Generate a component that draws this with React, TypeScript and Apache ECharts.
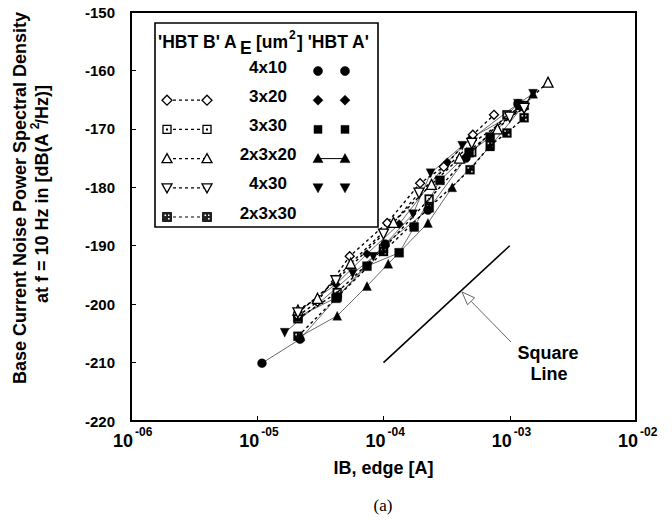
import React, { useEffect, useRef } from "react";
import * as echarts from "echarts";

const FONT = 'Arial, "Liberation Sans", Helvetica, sans-serif';
const SERIF = '"Times New Roman", "Liberation Serif", serif';

// ---- data (IB [A], PSD [dB(A^2/Hz)]) ----
const hbtA_4x10 = [[1.09e-5, -210.1], [2.18e-5, -206], [4.3e-5, -198.8], [1.03e-4, -189.7], [2.25e-4, -183.9], [4.5e-4, -175], [1.16e-3, -165.7]];
const hbtA_3x20 = [[2.1e-5, -201.3], [4.2e-5, -196.6], [7.4e-5, -191.4], [1.33e-4, -186.3], [3.2e-4, -175.7], [5e-4, -171.5], [1.3e-3, -166.5]];
const hbtA_3x30 = [[2.1e-5, -202.2], [4.3e-5, -198.8], [7.4e-5, -193.5], [1.33e-4, -191.2], [1.75e-4, -186.8], [2.8e-4, -178.8], [4.76e-4, -174.1], [7e-4, -171.4], [1.2e-3, -166]];
const hbtA_2x3x20 = [[2.2e-5, -205.5], [4.3e-5, -202], [7.4e-5, -196.9], [1.09e-4, -193.1], [2.25e-4, -186.1], [3.5e-4, -180], [7e-4, -173], [1.53e-3, -164]];
const hbtA_4x30 = [[1.65e-5, -204.9], [5.7e-5, -194.8], [8.3e-5, -191.9], [1.71e-4, -184.6], [2.36e-4, -177.6], [4.2e-4, -172.9], [1.16e-3, -165.7], [1.53e-3, -164]];

const hbtB_3x20 = [[2.1e-5, -202], [3e-5, -199.6], [5.4e-5, -191.8], [1.07e-4, -186.1], [1.95e-4, -179.3], [3e-4, -176.5], [5.1e-4, -171], [7.5e-4, -167.6]];
const hbtB_3x30 = [[2.1e-5, -202.5], [4.3e-5, -198], [1e-4, -190.5], [2.3e-4, -182], [5e-4, -174], [9.5e-4, -167.6], [1.3e-3, -166]];
const hbtB_2x3x20 = [[2.1e-5, -201], [3e-5, -199], [5.5e-5, -193], [1.2e-4, -186], [2.4e-4, -179.5], [4e-4, -175], [8e-4, -170], [2.01e-3, -162]];
const hbtB_4x30 = [[2.1e-5, -201.5], [4.2e-5, -196], [1e-4, -188], [1.91e-4, -181], [5e-4, -172.5], [1e-3, -168], [1.3e-3, -166.5]];
const hbtB_2x3x30 = [[2.1e-5, -205.5], [4.2e-5, -199], [1e-4, -191], [2.3e-4, -183.5], [4.85e-4, -177], [7e-4, -172.8], [9.5e-4, -170.7], [1.3e-3, -168.1]];

const squareLine = [[1e-4, -210], [1e-3, -190]];

const legendLabels = ["4x10", "3x20", "3x30", "2x3x20", "4x30", "2x3x30"];

const X_MIN = 1e-6;
const X_MAX = 1e-2;
const xTicks = [1e-6, 1e-5, 1e-4, 1e-3, 1e-2];
const xTickExp = ["-06", "-05", "-04", "-03", "-02"];
const Y_MIN = -220;
const Y_MAX = -150;
const Y_STEP = 10;

// ---- symbols ----
const TRI_DOWN = "path://M0,0 L10,0 L5,9 Z";
const SQ_DOT = "path://M0,0 L10,0 L10,10 L0,10 Z M1.6,1.6 L1.6,8.4 L8.4,8.4 L8.4,1.6 Z M4,4 L6,4 L6,6 L4,6 Z";
const SQ_PAT = "path://M0,0 L10,0 L10,10 L0,10 Z M2,2 L2,4 L4,4 L4,2 Z M6,6 L6,8 L8,8 L8,6 Z M6,2 L6,3.5 L7.5,3.5 L7.5,2 Z";

type Def = { name: string; data: number[][]; symbol: string; size: number; open: boolean; dashed: boolean };

const defs: Def[] = [
  { name: "HBT A 4x10", data: hbtA_4x10, symbol: "circle", size: 9, open: false, dashed: false },
  { name: "HBT A 3x20", data: hbtA_3x20, symbol: "diamond", size: 9, open: false, dashed: false },
  { name: "HBT A 3x30", data: hbtA_3x30, symbol: "rect", size: 9, open: false, dashed: false },
  { name: "HBT A 2x3x20", data: hbtA_2x3x20, symbol: "triangle", size: 9, open: false, dashed: false },
  { name: "HBT A 4x30", data: hbtA_4x30, symbol: TRI_DOWN, size: 9, open: false, dashed: false },
  { name: "HBT B 3x20", data: hbtB_3x20, symbol: "diamond", size: 9, open: true, dashed: true },
  { name: "HBT B 3x30", data: hbtB_3x30, symbol: SQ_DOT, size: 9, open: false, dashed: true },
  { name: "HBT B 2x3x20", data: hbtB_2x3x20, symbol: "triangle", size: 10, open: true, dashed: true },
  { name: "HBT B 4x30", data: hbtB_4x30, symbol: TRI_DOWN, size: 10, open: true, dashed: true },
  { name: "HBT B 2x3x30", data: hbtB_2x3x30, symbol: SQ_PAT, size: 9, open: false, dashed: true },
];

function shape(kind: string, cx: number, cy: number, open: boolean): any[] {
  const fill = open ? "#fff" : "#000";
  const st = { fill, stroke: "#000", lineWidth: open ? 1.3 : 0.5 };
  if (kind === "circle") return [{ type: "circle", z: 20, shape: { cx, cy, r: 4.5 }, style: st }];
  if (kind === "diamond") return [{ type: "polygon", z: 20, shape: { points: [[cx, cy - 5], [cx + 5, cy], [cx, cy + 5], [cx - 5, cy]] }, style: st }];
  if (kind === "square") return [{ type: "rect", z: 20, shape: { x: cx - 4, y: cy - 4, width: 8, height: 8 }, style: st }];
  if (kind === "triUp") return [{ type: "polygon", z: 20, shape: { points: [[cx, cy - 5], [cx + 5, cy + 4], [cx - 5, cy + 4]] }, style: st }];
  if (kind === "triDown") return [{ type: "polygon", z: 20, shape: { points: [[cx - 5, cy - 4], [cx + 5, cy - 4], [cx, cy + 5]] }, style: st }];
  if (kind === "sqDot")
    return [
      { type: "rect", z: 20, shape: { x: cx - 4, y: cy - 4, width: 8, height: 8 }, style: { fill: "#fff", stroke: "#000", lineWidth: 1.3 } },
      { type: "rect", z: 21, shape: { x: cx - 1, y: cy - 1, width: 2, height: 2 }, style: { fill: "#000" } },
    ];
  if (kind === "sqPat")
    return [
      { type: "rect", z: 20, shape: { x: cx - 4.5, y: cy - 4.5, width: 9, height: 9 }, style: { fill: "#222", stroke: "#000", lineWidth: 0.8 } },
      { type: "rect", z: 21, shape: { x: cx - 2.5, y: cy - 2.5, width: 1.6, height: 1.6 }, style: { fill: "#fff" } },
      { type: "rect", z: 21, shape: { x: cx + 1, y: cy + 1, width: 1.6, height: 1.6 }, style: { fill: "#fff" } },
      { type: "rect", z: 21, shape: { x: cx + 1, y: cy - 2.5, width: 1.4, height: 1.4 }, style: { fill: "#fff" } },
    ];
  return [];
}

function txt(x: number, y: number, text: string, font: string, align = "center", extra: any = {}) {
  return { type: "text", x, y, ...extra, style: { text, font, fill: "#000", align, verticalAlign: "middle" } };
}

function buildGraphic(xTickPx: number[], axisY: number): any[] {
  const g: any[] = [];
  const B17 = `bold 17.5px ${FONT}`;
  const B12 = `bold 12px ${FONT}`;
  // legend box
  g.push({ type: "rect", z: 15, shape: { x: 155, y: 23, width: 223, height: 204 }, style: { fill: "#fff", stroke: "#000", lineWidth: 1.6 } });
  // header pieces
  g.push(txt(158, 42, "'HBT B' A", B17, "left", { z: 20 }));
  g.push(txt(240, 48, "E", B17, "left", { z: 20 }));
  g.push(txt(256, 42, "[um", B17, "left", { z: 20 }));
  g.push(txt(289, 35, "2", B12, "left", { z: 20 }));
  g.push(txt(297, 42, "] 'HBT A'", B17, "left", { z: 20 }));

  const leftKinds = [null, "diamond", "sqDot", "triUp", "triDown", "sqPat"];
  const rightKinds = ["circle", "diamond", "square", "triUp", "triDown", null];
  legendLabels.forEach((lab, i) => {
    const ty = 67 + i * 29.2;
    const sy = ty + 4;
    g.push(txt(268, ty, lab, `bold 17px ${FONT}`, "center", { z: 20 }));
    const lk = leftKinds[i];
    if (lk) {
      g.push({ type: "line", z: 19, shape: { x1: 167, y1: sy, x2: 207, y2: sy }, style: { stroke: "#000", lineWidth: 1.2, lineDash: [3, 3] } });
      g.push(...shape(lk, 167, sy, lk !== "sqDot" && lk !== "sqPat"));
      g.push(...shape(lk, 207, sy, lk !== "sqDot" && lk !== "sqPat"));
    }
    const rk = rightKinds[i];
    if (rk) {
      if (rk === "triUp") g.push({ type: "line", z: 19, shape: { x1: 318, y1: sy, x2: 345, y2: sy }, style: { stroke: "#000", lineWidth: 1 } });
      g.push(...shape(rk, 318, sy, false));
      g.push(...shape(rk, 345, sy, false));
    }
  });

  // x tick labels 10^-0n
  xTickPx.forEach((px, i) => {
    g.push(txt(px + 2, axisY + 20, "10", `bold 18px ${FONT}`, "right"));
    g.push(txt(px + 4, axisY + 11, xTickExp[i], B12, "left"));
  });

  // y axis title (two rotated lines)
  g.push(txt(20, 198, "Base Current Noise Power Spectral Density", `bold 18px ${FONT}`, "center", { rotation: Math.PI / 2 }));
  g.push(txt(42, 194, "at f = 10 Hz in [dB(A  /Hz)]", `bold 18px ${FONT}`, "center", { rotation: Math.PI / 2 }));
  g.push(txt(35, 126, "2", B12, "center", { rotation: Math.PI / 2 }));

  // Square line annotation
  const tip = [462, 292];
  const tail = [511, 342];
  const dx = tip[0] - tail[0], dy = tip[1] - tail[1];
  const L = Math.hypot(dx, dy);
  const ux = dx / L, uy = dy / L;
  const bx = tip[0] - 13 * ux, by = tip[1] - 13 * uy;
  const px = -uy, py = ux;
  g.push({ type: "line", shape: { x1: tail[0], y1: tail[1], x2: bx, y2: by }, style: { stroke: "#666", lineWidth: 1 } });
  g.push({
    type: "polygon",
    shape: { points: [tip, [bx + 5 * px, by + 5 * py], [bx - 5 * px, by - 5 * py]] },
    style: { fill: "#fff", stroke: "#666", lineWidth: 1 },
  });
  g.push(txt(548, 353, "Square", `bold 18px ${FONT}`));
  g.push(txt(549, 374, "Line", `bold 18px ${FONT}`));

  g.push(txt(383, 505, "(a)", `17px ${SERIF}`));
  return g;
}

export default function App() {
  const ref = useRef<HTMLDivElement>(null);
  useEffect(() => {
    document.body.style.margin = "0";
    if (!ref.current) return;
    const chart = echarts.init(ref.current, undefined, { renderer: "svg" });
    const series: any[] = defs.map((d) => ({
      name: d.name,
      type: "line",
      data: d.data,
      symbol: d.symbol,
      symbolSize: d.size,
      showSymbol: true,
      z: d.dashed ? 4 : 3,
      lineStyle: d.dashed
        ? { color: "#000", width: 1.4, type: [3, 3] }
        : { color: "#444", width: 0.8, type: "solid" },
      itemStyle: d.open
        ? { color: "#fff", borderColor: "#000", borderWidth: 1.3 }
        : { color: "#000", borderColor: "#000", borderWidth: 0.3 },
      emphasis: { disabled: true },
    }));
    series.push({
      name: "Square Line",
      type: "line",
      data: squareLine,
      showSymbol: false,
      symbol: "none",
      lineStyle: { color: "#000", width: 1.6 },
      emphasis: { disabled: true },
    });
    chart.setOption({
      animation: false,
      backgroundColor: "#fff",
      grid: { left: 131, right: 36, top: 12, bottom: 104, show: true, borderColor: "#000", borderWidth: 2, backgroundColor: "transparent" },
      xAxis: {
        type: "log",
        logBase: 10,
        min: X_MIN,
        max: X_MAX,
        name: "IB, edge [A]",
        nameLocation: "middle",
        nameGap: 38,
        nameTextStyle: { fontFamily: FONT, fontWeight: "bold", fontSize: 18, color: "#000" },
        axisLine: { lineStyle: { color: "#000", width: 2 } },
        axisTick: { inside: true, length: 5, lineStyle: { color: "#000" } },
        splitLine: { show: false },
        axisLabel: { show: false },
      },
      yAxis: {
        type: "value",
        min: Y_MIN,
        max: Y_MAX,
        interval: Y_STEP,
        axisLine: { show: true, lineStyle: { color: "#000", width: 2 } },
        axisTick: { show: true, inside: true, length: 5, lineStyle: { color: "#000" } },
        splitLine: { show: false },
        axisLabel: { margin: 16, color: "#000", fontFamily: FONT, fontWeight: "bold", fontSize: 15 },
      },
      series,
    });
    const xPx = xTicks.map((v) => chart.convertToPixel({ xAxisIndex: 0 }, v) as number);
    const axisY = chart.convertToPixel({ yAxisIndex: 0 }, Y_MIN) as number;
    chart.setOption({ graphic: buildGraphic(xPx, axisY) });
    return () => chart.dispose();
  }, []);
  return <div ref={ref} style={{ width: 672, height: 525 }} />;
}
